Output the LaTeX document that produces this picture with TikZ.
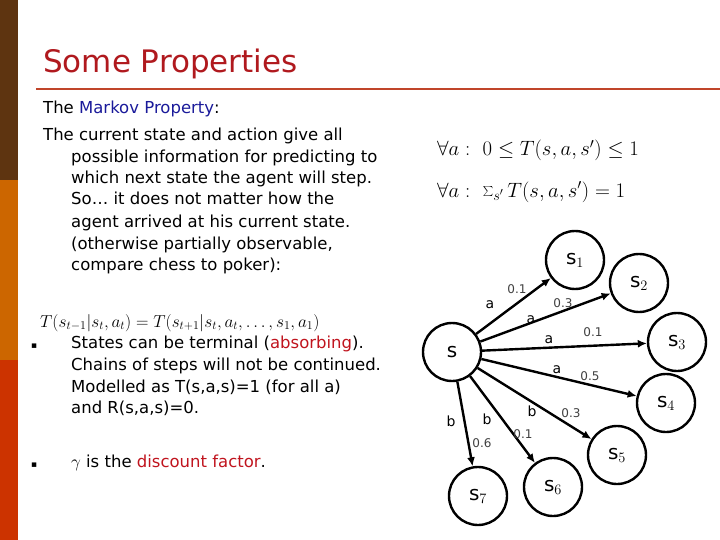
\documentclass[tikz,border=0pt]{standalone}
\usepackage{fontspec}
\setmainfont{DejaVu Sans}
\usetikzlibrary{arrows.meta}
\definecolor{titlered}{HTML}{B0191E}
\definecolor{rulec}{HTML}{C0452A}
\definecolor{bar1}{HTML}{5E3410}
\definecolor{bar2}{HTML}{CC6600}
\definecolor{bar3}{HTML}{CC3300}
\definecolor{mblue}{HTML}{1A1A9A}
\definecolor{kred}{HTML}{C0141E}
\tikzset{
 txt/.style={anchor=base west,inner sep=0pt,font=\fontsize{16.5}{20}\selectfont},
 st/.style={circle,draw,line width=2.4pt,minimum size=58pt,inner sep=0pt,font=\fontsize{20}{22}\selectfont},
 arr/.style={line width=2.4pt,-{Latex[length=9pt,width=8pt]}},
 al/.style={inner sep=0pt,font=\fontsize{14}{14}\selectfont},
 pl/.style={inner sep=0pt,font=\fontsize{12}{12}\selectfont\color{black!75}},
}
\begin{document}
\begin{tikzpicture}[x=1pt,y=-1pt]
\useasboundingbox (0,0) rectangle (720,540);
\fill[bar1] (0,0) rectangle (18,180);
\fill[bar2] (0,180) rectangle (18,360);
\fill[bar3] (0,360) rectangle (18,540);
\node[anchor=base west,inner sep=0pt,text=titlered,font=\fontsize{31}{34}\selectfont] (title) at (43,73) {Some Properties};
\draw[rulec,line width=2.5pt] (36,89) -- (720,89);
\node[txt] (l0) at (43,114) {The \textcolor{mblue}{Markov Property}:};
\node[txt] (l1) at (43,141) {The current state and action give all};
\node[txt] (l2) at (71,163) {possible information for predicting to};
\node[txt] (l3) at (71,184) {which next state the agent will step.};
\node[txt] (l4) at (71,205) {So… it does not matter how the};
\node[txt] (l5) at (71,227) {agent arrived at his current state.};
\node[txt] (l6) at (71,249) {(otherwise partially observable,};
\node[txt] (l7) at (71,270) {compare chess to poker):};
\node[anchor=base west,inner sep=0pt,font=\fontsize{21}{24}\selectfont] (f1) at (437,156) {$\forall a:\ 0 \le T(s,a,s') \le 1$};
\node[anchor=base west,inner sep=0pt,font=\fontsize{21}{24}\selectfont] (f2) at (437,197) {$\forall a:\ \sum_{s'} T(s,a,s') = 1$};
\node[anchor=base west,inner sep=0pt,font=\fontsize{18.5}{22}\selectfont] (f3) at (40,327) {$T(s_{t-1}|s_t,a_t) = T(s_{t+1}|s_t,a_t,\ldots,s_1,a_1)$};
\node[txt,font=\fontsize{9}{10}\selectfont] (b1) at (31,348) {▪};
\node[txt] (m1) at (71,348) {States can be terminal (\textcolor{kred}{absorbing}).};
\node[txt] (m2) at (71,370) {Chains of steps will not be continued.};
\node[txt] (m3) at (71,392) {Modelled as T(s,a,s)=1 (for all a)};
\node[txt] (m4) at (71,413) {and R(s,a,s)=0.};
\node[txt,font=\fontsize{9}{10}\selectfont] (b2) at (31,467) {▪};
\node[txt] (m5) at (71,467) {$\gamma$ is the \textcolor{kred}{discount factor}.};
% graph
\node[st] (s) at (452,352) {s};
\node[st] (s1) at (575,260) {s$_1$};
\node[st] (s2) at (639,283) {s$_2$};
\node[st] (s3) at (677,342) {s$_3$};
\node[st] (s4) at (666,403) {s$_4$};
\node[st] (s5) at (617,455) {s$_5$};
\node[st] (s6) at (553,487) {s$_6$};
\node[st] (s7) at (478,496) {s$_7$};
\foreach \t in {s1,s2,s3,s4,s5,s6,s7} \draw[arr] (s) -- (\t);
\node[al] (a1) at (490,305) {a}; \node[pl] (p1) at (517,289) {0.1};
\node[al] (a2) at (531,320) {a}; \node[pl] (p2) at (563,303) {0.3};
\node[al] (a3) at (549,340) {a}; \node[pl] (p3) at (593,332) {0.1};
\node[al] (a4) at (557,370) {a}; \node[pl] (p4) at (590,376) {0.5};
\node[al] (a5) at (532,411) {b}; \node[pl] (p5) at (571,413) {0.3};
\node[al] (a6) at (487,419) {b}; \node[pl] (p6) at (523,434) {0.1};
\node[al] (a7) at (451,421) {b}; \node[pl] (p7) at (482,443) {0.6};
\end{tikzpicture}
\end{document}
